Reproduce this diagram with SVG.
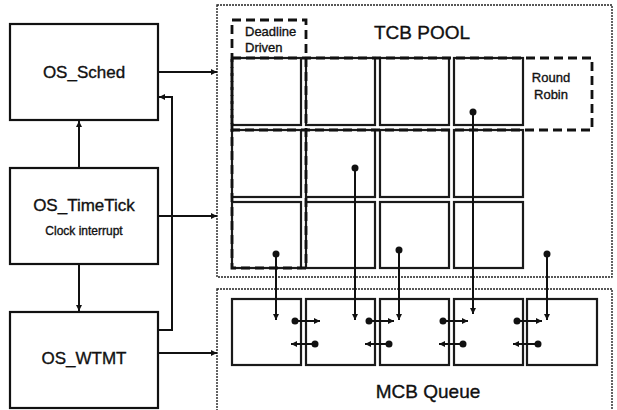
<svg xmlns="http://www.w3.org/2000/svg" width="617" height="410" viewBox="0 0 617 410">
<defs>
<marker id="ah" viewBox="0 0 10 10" refX="10" refY="5" markerWidth="7" markerHeight="6" markerUnits="userSpaceOnUse" orient="auto">
<path d="M0,0 L10,5 L0,10 z" fill="#111"/>
</marker>
</defs>
<style>
.box{fill:#fff;stroke:#111;stroke-width:2.2}
.cell{fill:#fff;stroke:#1a1a1a;stroke-width:2.2}
.outer{fill:none;stroke:#222;stroke-width:1.4;stroke-dasharray:2 1}
.dash{fill:none;stroke:#111;stroke-width:2.8;stroke-dasharray:9 5}
.arr{fill:none;stroke:#111;stroke-width:2;marker-end:url(#ah)}
.dot{fill:#111}
text{font-family:"Liberation Sans",Arial,sans-serif;fill:#111;stroke:#111;stroke-width:0.35}
.big{font-size:17px}
.title{font-size:19px}
.small{font-size:12px}
.lbl{font-size:13px}
</style>
<rect width="617" height="410" fill="#fff"/>

<g id="tcb-pool">
<rect class="outer" x="217" y="5" width="395" height="272"/>
<text class="title" x="422" y="39" text-anchor="middle">TCB POOL</text>
<rect class="cell" x="232" y="58" width="69" height="67"/>
<rect class="cell" x="306" y="58" width="69" height="67"/>
<rect class="cell" x="380" y="58" width="69" height="67"/>
<rect class="cell" x="454" y="58" width="69" height="67"/>
<rect class="cell" x="232" y="130" width="69" height="67"/>
<rect class="cell" x="306" y="130" width="69" height="67"/>
<rect class="cell" x="380" y="130" width="69" height="67"/>
<rect class="cell" x="454" y="130" width="69" height="67"/>
<rect class="cell" x="232" y="202" width="69" height="66"/>
<rect class="cell" x="306" y="202" width="69" height="66"/>
<rect class="cell" x="380" y="202" width="69" height="66"/>
<rect class="cell" x="454" y="202" width="69" height="66"/>
</g>

<g id="deadline-driven">
<rect class="dash" x="232" y="20" width="74" height="248"/>
<text class="lbl" x="245" y="36">Deadline</text>
<text class="lbl" x="245" y="52">Driven</text>
</g>

<g id="round-robin">
<rect class="dash" x="232" y="58" width="360" height="72"/>
<text class="lbl" x="551" y="82" text-anchor="middle">Round</text>
<text class="lbl" x="551" y="99" text-anchor="middle">Robin</text>
</g>

<g id="mcb-queue">
<rect class="outer" x="217" y="289" width="395" height="125"/>
<rect class="cell" x="232" y="299" width="69" height="66"/>
<rect class="cell" x="306" y="299" width="69" height="66"/>
<rect class="cell" x="380" y="299" width="69" height="66"/>
<rect class="cell" x="454" y="299" width="69" height="66"/>
<rect class="cell" x="527" y="299" width="70" height="66"/>
<text class="title" x="428" y="398" text-anchor="middle">MCB Queue</text>
</g>

<g id="os-sched">
<rect class="box" x="10" y="24" width="148" height="96"/>
<text class="big" x="84" y="78" text-anchor="middle">OS_Sched</text>
</g>

<g id="os-timetick">
<rect class="box" x="10" y="168" width="148" height="96"/>
<text class="big" x="84" y="211" text-anchor="middle">OS_TimeTick</text>
<text class="small" x="84" y="235" text-anchor="middle">Clock interrupt</text>
</g>

<g id="os-wtmt">
<rect class="box" x="10" y="312" width="148" height="96"/>
<text class="big" x="84" y="364" text-anchor="middle">OS_WTMT</text>
</g>

<g id="connectors">
<line class="arr" x1="158" y1="72" x2="217" y2="72"/>
<line class="arr" x1="158" y1="216" x2="217" y2="216"/>
<line class="arr" x1="158" y1="353" x2="217" y2="353"/>
<line class="arr" x1="79" y1="168" x2="79" y2="121"/>
<line class="arr" x1="79" y1="264" x2="79" y2="311"/>
<polyline class="arr" points="158,330 172,330 172,97 159,97"/>

<line class="arr" x1="276" y1="254" x2="276" y2="320"/>
<circle class="dot" cx="276" cy="254" r="3.5"/>
<line class="arr" x1="355" y1="168" x2="355" y2="320"/>
<circle class="dot" cx="355" cy="168" r="3.5"/>
<line class="arr" x1="399" y1="250" x2="399" y2="320"/>
<circle class="dot" cx="399" cy="250" r="3.5"/>
<line class="arr" x1="473" y1="112" x2="473" y2="314"/>
<circle class="dot" cx="473" cy="112" r="3.5"/>
<line class="arr" x1="547" y1="254" x2="547" y2="320"/>
<circle class="dot" cx="547" cy="254" r="3.5"/>

<line class="arr" x1="295" y1="321" x2="320" y2="321"/>
<circle class="dot" cx="295" cy="321" r="3.5"/>
<line class="arr" x1="315" y1="344" x2="291" y2="344"/>
<circle class="dot" cx="315" cy="344" r="3.5"/>
<line class="arr" x1="369" y1="321" x2="394" y2="321"/>
<circle class="dot" cx="369" cy="321" r="3.5"/>
<line class="arr" x1="389" y1="344" x2="365" y2="344"/>
<circle class="dot" cx="389" cy="344" r="3.5"/>
<line class="arr" x1="443" y1="321" x2="468" y2="321"/>
<circle class="dot" cx="443" cy="321" r="3.5"/>
<line class="arr" x1="463" y1="344" x2="439" y2="344"/>
<circle class="dot" cx="463" cy="344" r="3.5"/>
<line class="arr" x1="517" y1="321" x2="542" y2="321"/>
<circle class="dot" cx="517" cy="321" r="3.5"/>
<line class="arr" x1="538" y1="344" x2="513" y2="344"/>
<circle class="dot" cx="538" cy="344" r="3.5"/>
</g>
</svg>
